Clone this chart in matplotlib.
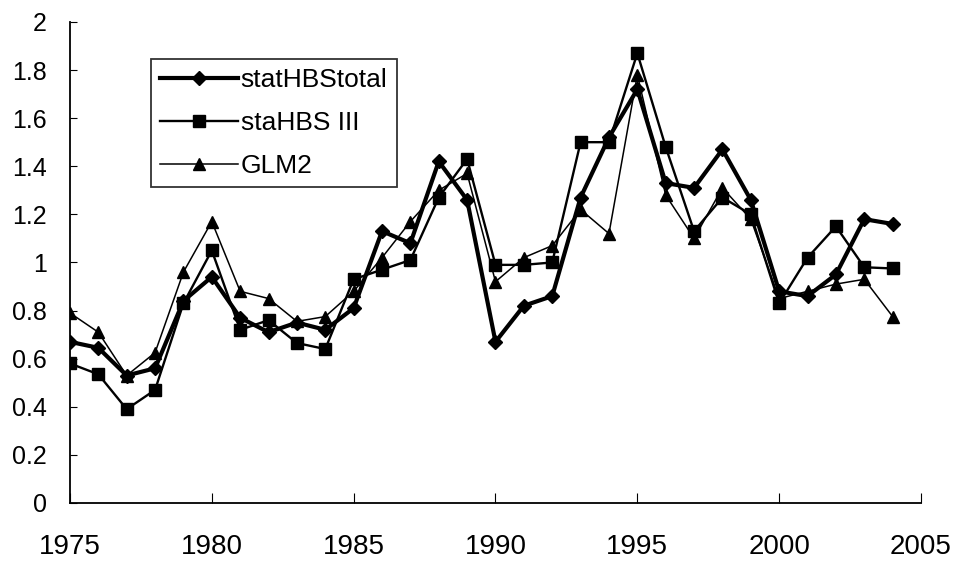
import matplotlib.pyplot as plt
from matplotlib.ticker import FuncFormatter

plt.rcParams['font.family'] = ['Liberation Sans', 'DejaVu Sans']

years = list(range(1975, 2005))

stat_hbs_total = [0.67, 0.645, 0.53, 0.56, 0.84, 0.94, 0.77, 0.71, 0.75, 0.72,
                  0.81, 1.13, 1.08, 1.42, 1.26, 0.67, 0.82, 0.86, 1.27, 1.52,
                  1.72, 1.33, 1.31, 1.47, 1.26, 0.88, 0.86, 0.95, 1.18, 1.16]
sta_hbs_iii = [0.58, 0.535, 0.39, 0.47, 0.83, 1.05, 0.72, 0.76, 0.665, 0.64,
               0.93, 0.97, 1.01, 1.27, 1.43, 0.99, 0.99, 1.00, 1.50, 1.50,
               1.87, 1.48, 1.13, 1.27, 1.20, 0.83, 1.02, 1.15, 0.98, 0.975]
glm2 = [0.79, 0.71, 0.53, 0.625, 0.96, 1.17, 0.88, 0.85, 0.755, 0.775,
        0.88, 1.02, 1.17, 1.30, 1.37, 0.92, 1.02, 1.07, 1.22, 1.12,
        1.78, 1.28, 1.10, 1.31, 1.18, 0.85, 0.88, 0.91, 0.93, 0.775]

fig = plt.figure(figsize=(9.57, 5.62), dpi=100)
ax = fig.add_axes([0.0731, 0.105, 0.8893, 0.856])

ax.plot(years, stat_hbs_total, color='black', lw=3.0, marker='D', ms=7.5,
        label='statHBStotal')
ax.plot(years, sta_hbs_iii, color='black', lw=1.7, marker='s', ms=8,
        label='staHBS III')
ax.plot(years, glm2, color='black', lw=1.1, marker='^', ms=8.5,
        label='GLM2')

ax.set_xlim(1975, 2005)
ax.set_ylim(0, 2)
ax.set_xticks(range(1975, 2006, 5))
ax.set_yticks([i * 0.2 for i in range(11)])
ax.yaxis.set_major_formatter(FuncFormatter(lambda v, p: '%g' % round(v, 1)))

for side in ['top', 'right']:
    ax.spines[side].set_visible(False)
for side in ['left', 'bottom']:
    ax.spines[side].set_linewidth(1.3)

ax.tick_params(axis='y', direction='in', length=5, pad=16.5, labelsize=18)
ax.tick_params(axis='x', direction='in', length=7, pad=22, labelsize=20)

leg = ax.legend(loc='upper left', bbox_to_anchor=(0.095, 0.923), fontsize=19,
                frameon=True, fancybox=False, edgecolor='black',
                handlelength=2.95, labelspacing=0.72, borderpad=0.35,
                handletextpad=0.1, borderaxespad=0)
leg.get_frame().set_linewidth(1.3)

fig.savefig('out.png', dpi=100)
